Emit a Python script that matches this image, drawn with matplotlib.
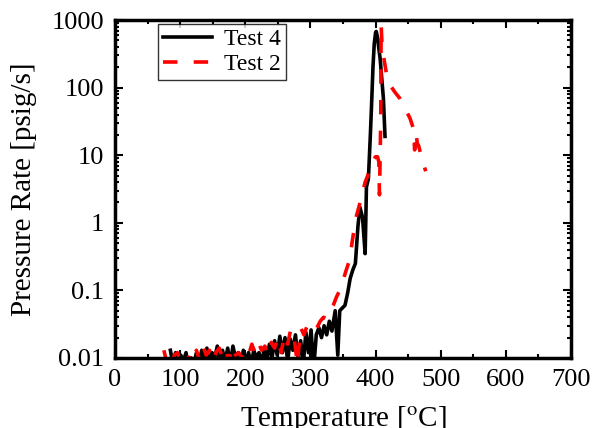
import numpy as np
import matplotlib
matplotlib.use('agg')
import matplotlib.pyplot as plt
from matplotlib.ticker import LogLocator, NullFormatter, MultipleLocator

plt.rcParams['font.family'] = 'Liberation Serif'
plt.rcParams['mathtext.fontset'] = 'stix'
plt.rcParams['font.size'] = 19

# Test 4 (black)
t4_temp = [85, 89, 93, 97, 101, 105, 109, 113, 117, 121,
           125, 129, 133, 137, 141, 145, 149, 153, 157, 161,
           165, 169, 173, 177, 181, 185, 189, 193, 197, 201,
           205, 209, 213, 217, 221, 225, 229, 233, 237, 241,
           245, 249, 253, 257, 261, 265, 269, 273, 277, 281,
           285, 289, 293, 297, 301, 305, 309, 313, 317, 321,
           325, 329, 333,
           338, 342, 345, 349, 353, 357, 361, 365, 369, 373,
           376, 380, 384, 386, 389, 392, 394, 396, 398, 400,
           401, 403, 405, 407, 410, 412, 414.5]
t4_rate = [0.013, 0.008, 0.012, 0.007, 0.011, 0.009, 0.012, 0.007, 0.010, 0.008,
           0.012, 0.008, 0.013, 0.009, 0.014, 0.008, 0.012, 0.010, 0.015, 0.008,
           0.013, 0.009, 0.014, 0.008, 0.015, 0.010, 0.012, 0.008, 0.013, 0.009,
           0.012, 0.008, 0.013, 0.010, 0.012, 0.008, 0.014, 0.009, 0.016, 0.010,
           0.018, 0.011, 0.021, 0.012, 0.020, 0.009, 0.019, 0.013, 0.022, 0.010,
           0.018, 0.008, 0.024, 0.012, 0.026, 0.007, 0.022, 0.028, 0.020, 0.030,
           0.022, 0.035, 0.025,
           0.05, 0.011, 0.05, 0.055, 0.06, 0.09, 0.15, 0.2, 0.25, 0.9,
           1.7, 1.2, 0.35, 3.4, 4.5, 20, 60, 200, 450, 650,
           680, 560, 380, 270, 120, 70, 19]

# Test 2 (red dashed)
t2_temp = [75, 79, 83, 87, 91, 96, 100,
           105, 110, 115, 120, 125, 130, 135, 140, 145, 150,
           155, 160, 165, 170, 175, 180, 185, 190, 195, 200,
           205, 210, 215, 220, 225, 230, 235, 240, 245, 250,
           255, 260, 265, 270, 275, 280, 285, 290, 295, 300,
           305, 310, 315, 320, 325, 330, 335, 340, 345, 350,
           355, 360, 365, 370, 375, 380,
           384, 388, 392, 396, 400, 403, 405, 406, 407, 408,
           408.5, 410, 412, 417, 422, 430, 437, 445, 453, 458,
           460, 462, 464, 466, 471, 477]
t2_rate = [0.013, 0.009, 0.011, 0.008, 0.011, 0.012, 0.009,
           0.011, 0.008, 0.012, 0.010, 0.013, 0.009, 0.015, 0.011, 0.013, 0.009,
           0.012, 0.014, 0.010, 0.013, 0.009, 0.015, 0.011, 0.012, 0.010, 0.013,
           0.011, 0.016, 0.012, 0.017, 0.013, 0.015, 0.011, 0.017, 0.014, 0.020,
           0.012, 0.022, 0.016, 0.027, 0.020, 0.008, 0.028, 0.022, 0.030, 0.026,
           0.030, 0.028, 0.035, 0.040, 0.038, 0.050, 0.060, 0.080, 0.10, 0.14,
           0.20, 0.28, 0.60, 1.2, 1.8, 2.8,
           4, 5, 7, 8.5, 9.5, 9.5, 8, 2.6, 9, 40,
           850, 420, 300, 155, 110, 85, 70, 50, 35, 25,
           12, 22, 15, 14, 9, 5.8]

fig = plt.figure(figsize=(5.96, 4.28), dpi=100)
ax = fig.add_axes([0.193, 0.1636, 0.765, 0.7894])

ax.plot(t4_temp, t4_rate, color='black', lw=2.6, label='Test 4')
ax.plot(t2_temp, t2_rate, color='red', lw=2.6, dashes=(4, 4.5), label='Test 2')

ax.set_yscale('log')
ax.set_xlim(0, 700)
ax.set_ylim(0.01, 1000)
ax.set_yticks([0.01, 0.1, 1, 10, 100, 1000])
ax.set_yticklabels(['0.01', '0.1', '1', '10', '100', '1000'])
ax.yaxis.set_minor_locator(LogLocator(base=10, subs=np.arange(2, 10), numticks=20))
ax.yaxis.set_minor_formatter(NullFormatter())
ax.xaxis.set_major_locator(MultipleLocator(100))
ax.xaxis.set_minor_locator(MultipleLocator(50))

for s in ax.spines.values():
    s.set_linewidth(2.5)
ax.tick_params(which='both', direction='in', top=True, right=True, width=1.5)
ax.tick_params(which='major', length=6, pad=8)
ax.tick_params(which='minor', length=3)

ax.set_xlabel(r'Temperature [$^{\rm o}$C]', fontsize=21, labelpad=9)
ax.set_ylabel('Pressure Rate [psig/s]', fontsize=21, labelpad=10)

leg = ax.legend(loc='upper left', bbox_to_anchor=(0.094, 0.988), fontsize=17,
                frameon=True, fancybox=False, handlelength=2.1,
                borderpad=0.2, labelspacing=0.15, handletextpad=0.5,
                borderaxespad=0.0)
leg.get_frame().set_edgecolor('black')
leg.get_frame().set_linewidth(1.0)

plt.savefig('out.png', dpi=100)
